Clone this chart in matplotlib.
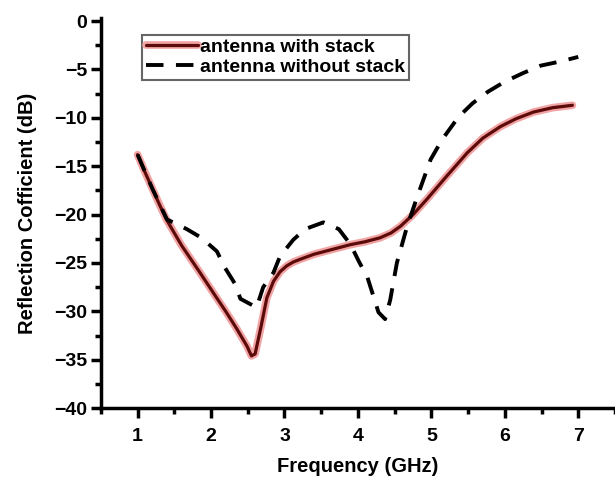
import numpy as np
import matplotlib.pyplot as plt
import matplotlib.patheffects as pe
from matplotlib.ticker import MultipleLocator

plt.rcParams['font.family'] = ['Liberation Sans', 'DejaVu Sans']
plt.rcParams['font.weight'] = 'bold'

# %% data
f_stack = [1.0, 1.1, 1.2, 1.3, 1.4, 1.6, 1.85, 2.05, 2.2, 2.35, 2.49, 2.55, 2.6, 2.68,
           2.76, 2.85, 2.94, 3.03, 3.12, 3.22, 3.4, 3.6, 3.9, 4.1, 4.3, 4.45, 4.58, 4.75,
           4.94, 5.2, 5.49, 5.7, 5.94, 6.15, 6.39, 6.65, 6.92]
s_stack = [-13.8, -15.6, -17.3, -19.0, -20.6, -23.2, -26.0, -28.3, -30.0, -31.8, -33.6,
           -34.6, -34.4, -31.6, -28.6, -26.9, -25.9, -25.3, -24.9, -24.6, -24.1, -23.7,
           -23.1, -22.8, -22.4, -21.9, -21.2, -20.0, -18.4, -16.1, -13.6, -12.1, -10.9,
           -10.1, -9.4, -8.95, -8.7]

f_nostack = [1.0, 1.2, 1.4, 1.67, 1.87, 2.08, 2.19, 2.33, 2.4, 2.62, 2.71, 2.85, 2.94,
             3.12, 3.28, 3.53, 3.74, 3.9, 4.01, 4.13, 4.28, 4.37, 4.44, 4.53, 4.67,
             4.81, 4.99, 5.15, 5.37, 5.56, 5.77, 5.99, 6.24, 6.49, 6.74, 7.0]
s_nostack = [-13.8, -17.3, -20.5, -21.5, -22.4, -23.8, -25.5, -27.2, -28.7, -29.6, -27.5,
             -26.0, -24.3, -22.6, -21.5, -20.8, -21.5, -23.1, -24.8, -26.5, -30.1, -30.8,
             -28.8, -25.0, -21.2, -18.1, -14.3, -12.2, -9.9, -8.5, -7.3, -6.3, -5.4,
             -4.6, -4.2, -3.7]

# %% plot
fig = plt.figure(figsize=(6.15, 4.79), dpi=100)
ax = fig.add_axes([0.164, 0.148, 0.836, 0.814])

ax.plot(f_stack, s_stack, color='#5c0a0a', lw=2.3, solid_capstyle='round',
        solid_joinstyle='round',
        path_effects=[pe.Stroke(linewidth=5.5, foreground='#f2a3a3'), pe.Normal()],
        label='antenna with stack')
ax.plot(f_nostack, s_nostack, color='black', lw=2.8, dashes=(4.5, 3.2),
        label='antenna without stack')

ax.set_xlim(0.5, 7.5)
ax.set_ylim(-40, 0.3)
ax.xaxis.set_major_locator(MultipleLocator(1))
ax.xaxis.set_minor_locator(MultipleLocator(0.5))
ax.yaxis.set_major_locator(MultipleLocator(5))
ax.yaxis.set_minor_locator(MultipleLocator(2.5))
ax.set_xticks(range(1, 8))

for s in ['top', 'right']:
    ax.spines[s].set_visible(False)
for s in ['left', 'bottom']:
    ax.spines[s].set_linewidth(2.5)

ax.tick_params(which='major', length=7, width=2.5, labelsize=14)
ax.tick_params(axis='y', which='major', pad=3)
ax.tick_params(axis='x', which='major', pad=7)
ax.tick_params(which='minor', length=4, width=2.5)

ax.set_xlabel('Frequency (GHz)', fontsize=14.5, fontweight='bold', labelpad=9)
ax.set_ylabel('Reflection Cofficient (dB)', fontsize=14.5, fontweight='bold', labelpad=12)

leg = ax.legend(loc='upper left', bbox_to_anchor=(0.08, 0.958), fontsize=14,
                handlelength=2.7, handletextpad=0.1, borderpad=0.2, labelspacing=0.1,
                fancybox=False, framealpha=1, borderaxespad=0)
leg.get_frame().set_edgecolor('#666666')
leg.get_frame().set_linewidth(1.5)

plt.savefig('out.png', dpi=100)
